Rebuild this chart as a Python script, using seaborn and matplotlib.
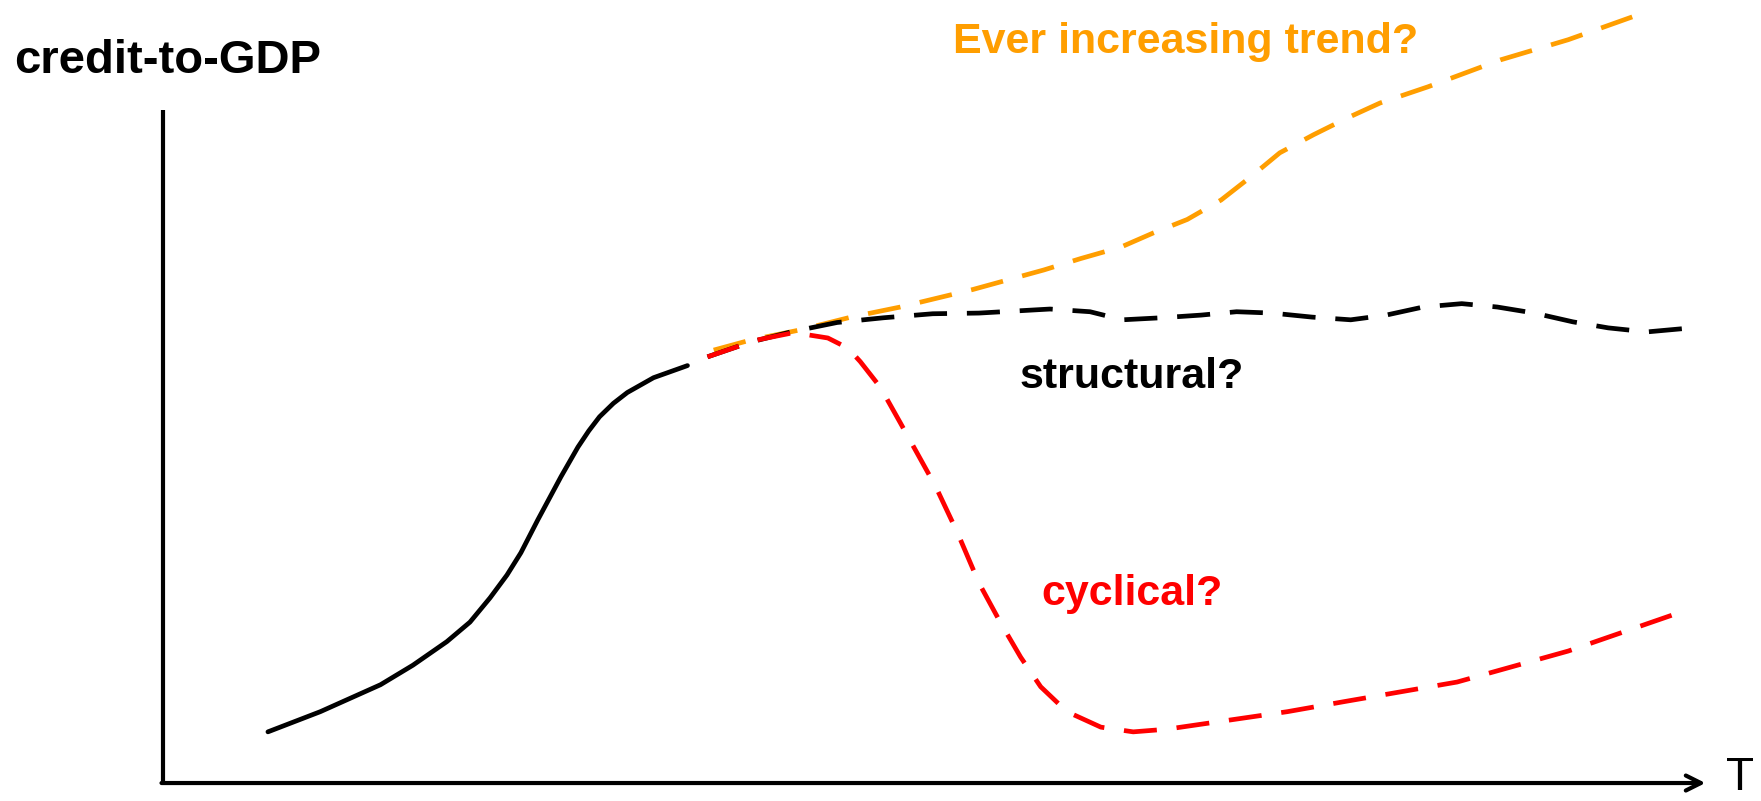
import matplotlib
matplotlib.use("Agg")
import matplotlib.pyplot as plt
import seaborn as sns

# time axis runs 0..100, credit-to-GDP level 0..100 (schematic units)
hist_t = [6.8, 10.2, 14.1, 16.2, 18.4, 19.9, 21.2, 22.3, 23.2, 24.3, 25.8, 26.9,
          27.6, 28.3, 29.2, 30.1, 31.8, 34.0]
hist_y = [7.6, 10.6, 14.6, 17.5, 21.0, 23.9, 27.5, 30.9, 34.2, 39.1, 45.5, 49.9,
          52.3, 54.4, 56.4, 58.0, 60.2, 62.0]

struct_t = [35.3, 38.1, 40.7, 43.7, 46.7, 49.9, 52.9, 57.5, 60.1, 62.2, 64.7, 67.3, 69.6,
            71.9, 74.5, 77.0, 79.3, 81.7, 84.2, 86.5, 88.9, 91.4, 93.7, 96.2, 98.6]
struct_y = [63.3, 65.5, 67.0, 68.4, 69.1, 69.7, 69.8, 70.4, 70.0, 68.8, 69.1, 69.5, 70.0,
            69.8, 69.2, 68.8, 69.5, 70.7, 71.2, 70.7, 69.8, 68.5, 67.6, 67.0, 67.5]

trend_t = [35.7, 38.1, 41.3, 44.6, 47.8, 52.5, 57.1, 59.5, 62.1, 64.2, 66.4, 68.6, 70.5,
           72.4, 74.6, 76.8, 78.9, 82.0, 86.7, 91.1, 96.0]
trend_y = [64.3, 65.8, 67.3, 69.2, 70.7, 73.3, 76.2, 77.9, 79.6, 81.7, 83.7, 86.6, 90.0,
           93.6, 96.3, 98.8, 101.0, 103.4, 107.4, 110.4, 114.4]

cycle_t = [35.3, 38.5, 40.9, 43.1, 44.4, 45.2, 46.5, 47.8, 50.1, 51.5, 52.9, 54.3,
           55.6, 56.9, 58.6, 60.8, 62.9, 65.1, 68.4, 72.9, 76.6, 83.9, 91.1, 98.8]
cycle_y = [63.3, 65.8, 66.9, 66.1, 64.6, 62.6, 58.8, 53.5, 44.0, 37.2, 29.7, 23.8,
           18.7, 14.3, 10.6, 8.3, 7.6, 8.0, 9.1, 10.6, 12.1, 15.0, 19.6, 25.7]

labels = {
    'trend': 'Ever increasing trend?',
    'structural': 'structural?',
    'cyclical': 'cyclical?',
}
y_title = 'credit-to-GDP'
x_title = 'T'

ORANGE = '#FF9E00'
RED = '#FF0000'
BLACK = '#000000'

sns.set_theme(style='white')
plt.rcParams['font.family'] = ['Liberation Sans', 'DejaVu Sans']
plt.rcParams['text.color'] = BLACK

fig = plt.figure(figsize=(17.61, 8.01), dpi=100)
ax = fig.add_axes([0, 0, 1, 1])
ax.set_xlim(-10.57, 103.6)
ax.set_ylim(-2.67, 116.3)
ax.axis('off')

lw = 3.4
dash = (0, (7, 4.2))
sns.lineplot(x=hist_t, y=hist_y, ax=ax, color=BLACK, linewidth=lw, sort=False, estimator=None)
sns.lineplot(x=trend_t, y=trend_y, ax=ax, color=ORANGE, linewidth=lw, sort=False,
             estimator=None, linestyle=dash)
sns.lineplot(x=struct_t, y=struct_y, ax=ax, color=BLACK, linewidth=lw, sort=False,
             estimator=None, linestyle=dash)
sns.lineplot(x=cycle_t, y=cycle_y, ax=ax, color=RED, linewidth=lw, sort=False,
             estimator=None, linestyle=dash)
for ln in ax.lines:
    ln.set_solid_joinstyle('round')
    ln.set_dash_joinstyle('round')

# axes drawn as plain lines, x-axis with an arrow head
ax.plot([0, 0], [0, 100], color=BLACK, lw=3, solid_capstyle='butt')
ax.annotate('', xy=(100.0, 0), xytext=(-0.1, 0),
            arrowprops=dict(arrowstyle='->,head_length=0.9,head_width=0.45',
                            color=BLACK, lw=3, shrinkA=0, shrinkB=0))

lab_font = dict(family=['Liberation Sans', 'DejaVu Sans'],
                fontweight='bold', fontsize=31, ha='center', va='baseline')
ax.text(66.3, 108.5, labels['trend'], color=ORANGE, **lab_font)
ax.text(62.8, 58.7, labels['structural'], color=BLACK, **lab_font)
ax.text(62.8, 26.4, labels['cyclical'], color=RED, **lab_font)

fig.text(0.008, 0.909, y_title, fontsize=34, fontweight='bold', color=BLACK,
         ha='left', va='baseline')
fig.text(0.980, 0.001, x_title, fontsize=33, color=BLACK, ha='left', va='bottom')

fig.savefig('out.png', dpi=100)
